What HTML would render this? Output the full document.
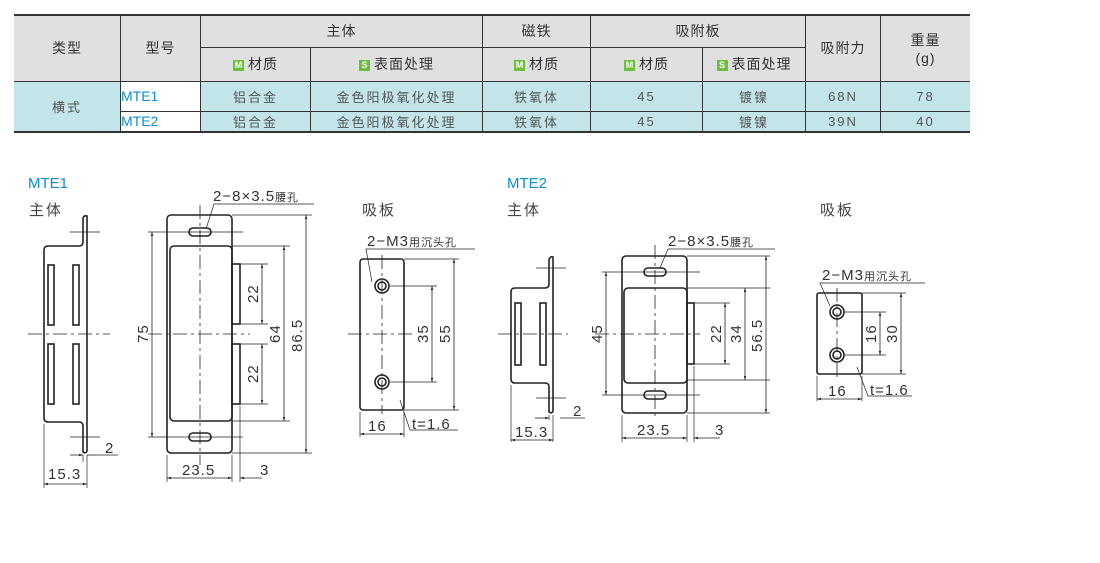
<!DOCTYPE html>
<html><head><meta charset="utf-8"><style>
body{margin:0;width:1100px;height:563px;background:#fff;overflow:hidden;font-family:"Liberation Sans","Noto Sans CJK SC",sans-serif;}
table{position:absolute;left:14px;top:14px;border-collapse:collapse;font-size:14px;color:#333;border-top:2px solid #333;border-bottom:2px solid #333;}
td{border:1px solid #333;text-align:center;padding:0;letter-spacing:1px}
tr td:first-child{border-left:none}
tr td.r{border-right:none}
.h td{background:#e0e0e0;}
.d td{background:#c2e5ea;font-size:13px;color:#555;letter-spacing:2px}
.m{display:inline-block;width:11px;height:11px;background:#6bbf3a;color:#fff;font-size:9px;line-height:11px;font-weight:bold;margin-right:4px;vertical-align:1px;letter-spacing:0}
.d td.b{color:#0a8fd0;text-align:left;background:#fff;font-size:14px;letter-spacing:0}
svg{position:absolute;left:0;top:0}
</style></head><body>
<table>
<tr class="h" style="height:32px"><td rowspan="2" style="width:106px">类型</td><td rowspan="2" style="width:79px">型号</td><td colspan="2">主体</td><td style="width:107px">磁铁</td><td colspan="2">吸附板</td><td rowspan="2" style="width:74px">吸附力</td><td rowspan="2" class="r" style="width:89px">重量<br>(g)</td></tr>
<tr class="h" style="height:34px"><td style="width:109px;border-left:1px solid #333"><span class="m">M</span>材质</td><td style="width:171px"><span class="m">S</span>表面处理</td><td><span class="m">M</span>材质</td><td style="width:111px"><span class="m">M</span>材质</td><td style="width:102px"><span class="m">S</span>表面处理</td></tr>
<tr class="d" style="height:30px"><td rowspan="2">横式</td><td class="b">MTE1</td><td>铝合金</td><td>金色阳极氧化处理</td><td>铁氧体</td><td>45</td><td>镀镍</td><td>68N</td><td class="r">78</td></tr>
<tr class="d" style="height:20px"><td class="b" style="border-left:1px solid #333">MTE2</td><td>铝合金</td><td>金色阳极氧化处理</td><td>铁氧体</td><td>45</td><td>镀镍</td><td>39N</td><td class="r">40</td></tr>
</table>
<svg width="1100" height="563" font-family="Liberation Sans,Noto Sans CJK SC,sans-serif" fill="none" stroke="#222" stroke-width="1">
<defs><marker id="a" viewBox="0 0 10 10" refX="10" refY="5" markerWidth="7" markerHeight="5" orient="auto-start-reverse"><path d="M0,2L10,5L0,8z" fill="#222" stroke="none"/></marker></defs>
<g fill="#0a8fd0" stroke="none" font-size="15"><text x="28" y="188">MTE1</text><text x="507" y="188">MTE2</text></g>
<g fill="#444" stroke="none" font-size="15" letter-spacing="2"><text x="29" y="215">主体</text><text x="362" y="215">吸板</text><text x="507" y="215">主体</text><text x="820" y="215">吸板</text></g>
<g stroke-width="1.6">
<path d="M87,216 V451 Q86,454 83,452 L83,426 Q83,422 79,422 H48 Q44,422 44,418 V250 Q44,246 48,246 H79 Q83,246 83,242 V218 Q84,215 87,216Z"/>
<rect x="48" y="265" width="6" height="60"/><rect x="73" y="265" width="6" height="60"/>
<rect x="48" y="344" width="6" height="60"/><rect x="73" y="344" width="6" height="60"/>
<rect x="167" y="215" width="65" height="238" rx="4"/>
<rect x="170" y="246" width="62" height="175" rx="4"/>
<rect x="232" y="264" width="8" height="60"/><rect x="232" y="344" width="8" height="60"/>
<rect x="189" y="228" width="22" height="8" rx="4"/><rect x="189" y="433" width="22" height="8" rx="4"/>
<rect x="360" y="259" width="44" height="151" rx="3"/>
<circle cx="382" cy="286" r="7"/><circle cx="382" cy="286" r="4"/>
<circle cx="382" cy="382" r="7"/><circle cx="382" cy="382" r="4"/>
<path d="M553,257 V411 Q552,414 549,412 L549,387 Q549,383 545,383 H515 Q511,383 511,379 V292 Q511,288 515,288 H545 Q549,288 549,284 V260 Q550,256 553,257Z"/>
<rect x="515" y="303" width="6" height="62"/><rect x="540" y="303" width="6" height="62"/>
<rect x="622" y="256" width="65" height="157" rx="4"/>
<rect x="624" y="288" width="63" height="95" rx="4"/>
<rect x="687" y="303" width="7" height="61"/>
<rect x="644" y="268" width="22" height="8" rx="4"/><rect x="644" y="391" width="22" height="8" rx="4"/>
<rect x="817" y="293" width="45" height="81" rx="2"/>
<circle cx="837" cy="312" r="7"/><circle cx="837" cy="312" r="4"/>
<circle cx="837" cy="355" r="7"/><circle cx="837" cy="355" r="4"/>
</g>
<g stroke-dasharray="14,4,3,4" stroke-width="0.8">
<line x1="28" y1="334" x2="110" y2="334"/><line x1="148" y1="334" x2="250" y2="334"/>
<line x1="200" y1="205" x2="200" y2="465"/>
<line x1="348" y1="334" x2="414" y2="334"/><line x1="382" y1="255" x2="382" y2="414"/>
<line x1="498" y1="334" x2="568" y2="334"/><line x1="595" y1="334" x2="700" y2="334"/>
<line x1="655" y1="245" x2="655" y2="420"/>
<line x1="837" y1="288" x2="837" y2="380"/>
</g>
<g stroke-width="0.7">
<line x1="70" y1="232" x2="100" y2="232"/><line x1="70" y1="437" x2="100" y2="437"/>
<line x1="44" y1="424" x2="44" y2="488"/><line x1="87" y1="455" x2="87" y2="488"/><line x1="83" y1="455" x2="83" y2="462"/>
<line x1="148" y1="232" x2="243" y2="232"/><line x1="148" y1="437" x2="243" y2="437"/>
<line x1="232" y1="246" x2="290" y2="246"/><line x1="232" y1="421" x2="290" y2="421"/>
<line x1="240" y1="264" x2="268" y2="264"/><line x1="240" y1="324" x2="268" y2="324"/>
<line x1="240" y1="344" x2="268" y2="344"/><line x1="240" y1="404" x2="268" y2="404"/>
<line x1="232" y1="215" x2="312" y2="215"/><line x1="232" y1="453" x2="312" y2="453"/>
<line x1="167" y1="455" x2="167" y2="482"/><line x1="232" y1="455" x2="232" y2="482"/><line x1="240" y1="406" x2="240" y2="482"/>
<line x1="390" y1="286" x2="437" y2="286"/><line x1="390" y1="382" x2="437" y2="382"/>
<line x1="404" y1="259" x2="459" y2="259"/><line x1="404" y1="410" x2="459" y2="410"/>
<line x1="360" y1="412" x2="360" y2="437"/><line x1="404" y1="412" x2="404" y2="437"/>
<line x1="536" y1="268" x2="566" y2="268"/><line x1="536" y1="398" x2="566" y2="398"/>
<line x1="511" y1="385" x2="511" y2="442"/><line x1="553" y1="415" x2="553" y2="442"/><line x1="549" y1="415" x2="549" y2="420"/>
<line x1="602" y1="272" x2="700" y2="272"/><line x1="602" y1="395" x2="700" y2="395"/>
<line x1="687" y1="288" x2="770" y2="288"/><line x1="687" y1="380" x2="770" y2="380"/>
<line x1="694" y1="303" x2="730" y2="303"/><line x1="694" y1="364" x2="730" y2="364"/>
<line x1="687" y1="256" x2="770" y2="256"/><line x1="687" y1="413" x2="770" y2="413"/>
<line x1="622" y1="415" x2="622" y2="442"/><line x1="687" y1="415" x2="687" y2="442"/><line x1="694" y1="366" x2="694" y2="442"/>
<line x1="845" y1="312" x2="886" y2="312"/><line x1="845" y1="355" x2="886" y2="355"/>
<line x1="862" y1="293" x2="906" y2="293"/><line x1="862" y1="374" x2="906" y2="374"/>
<line x1="817" y1="376" x2="817" y2="401"/><line x1="862" y1="376" x2="862" y2="401"/>
<polyline points="206,229 214,204 314,204"/><polyline points="372,282 366,249 475,249"/>
<polyline points="400,400 410,430 458,430"/>
<polyline points="660,268 668,249 775,249"/><polyline points="830,306 820,283 925,283"/>
<polyline points="857,367 868,396 912,396"/>
<polyline points="96,455 118,455"/><polyline points="560,418 585,418"/>
</g>
<g stroke-width="0.8" marker-start="url(#a)" marker-end="url(#a)">
<line x1="152" y1="232" x2="152" y2="437"/>
<line x1="262" y1="264" x2="262" y2="324"/><line x1="262" y1="344" x2="262" y2="404"/>
<line x1="284" y1="246" x2="284" y2="421"/><line x1="306" y1="215" x2="306" y2="453"/>
<line x1="167" y1="478" x2="232" y2="478"/>
<line x1="432" y1="286" x2="432" y2="382"/><line x1="454" y1="259" x2="454" y2="410"/>
<line x1="360" y1="434" x2="404" y2="434"/>
<line x1="44" y1="484" x2="87" y2="484"/>
<line x1="606" y1="272" x2="606" y2="395"/>
<line x1="725" y1="303" x2="725" y2="364"/><line x1="745" y1="288" x2="745" y2="380"/><line x1="766" y1="256" x2="766" y2="413"/>
<line x1="622" y1="438" x2="687" y2="438"/>
<line x1="817" y1="399" x2="862" y2="399"/>
<line x1="880" y1="312" x2="880" y2="355"/><line x1="901" y1="293" x2="901" y2="374"/>
<line x1="511" y1="440" x2="553" y2="440"/>
</g>
<g stroke-width="0.8">
<line x1="70" y1="455" x2="83" y2="455" marker-end="url(#a)"/><line x1="87" y1="455" x2="96" y2="455"/>
<line x1="262" y1="478" x2="240" y2="478" marker-end="url(#a)"/>
<line x1="535" y1="418" x2="549" y2="418" marker-end="url(#a)"/>
<line x1="720" y1="438" x2="694" y2="438" marker-end="url(#a)"/>
</g>
<g fill="#333" stroke="none" font-size="15" letter-spacing="1">
<text x="213" y="201">2−8×3.5<tspan font-size="11">腰孔</tspan></text>
<text x="367" y="246">2−M3<tspan font-size="11">用沉头孔</tspan></text>
<text x="668" y="246">2−8×3.5<tspan font-size="11">腰孔</tspan></text>
<text x="822" y="280">2−M3<tspan font-size="11">用沉头孔</tspan></text>
<text x="105" y="453">2</text><text x="48" y="479">15.3</text>
<text x="182" y="475">23.5</text><text x="260" y="475">3</text>
<text x="368" y="431">16</text><text x="412" y="429">t=1.6</text>
<text x="573" y="416">2</text><text x="515" y="437">15.3</text>
<text x="637" y="435">23.5</text><text x="715" y="435">3</text>
<text x="828" y="396">16</text><text x="870" y="395">t=1.6</text>
<text transform="translate(148,343) rotate(-90)">75</text>
<text transform="translate(258,303) rotate(-90)">22</text>
<text transform="translate(258,383) rotate(-90)">22</text>
<text transform="translate(280,343) rotate(-90)">64</text>
<text transform="translate(302,352) rotate(-90)">86.5</text>
<text transform="translate(428,343) rotate(-90)">35</text>
<text transform="translate(450,343) rotate(-90)">55</text>
<text transform="translate(602,343) rotate(-90)">45</text>
<text transform="translate(721,343) rotate(-90)">22</text>
<text transform="translate(741,343) rotate(-90)">34</text>
<text transform="translate(762,352) rotate(-90)">56.5</text>
<text transform="translate(876,343) rotate(-90)">16</text>
<text transform="translate(897,343) rotate(-90)">30</text>
</g>
</svg>
</body></html>
